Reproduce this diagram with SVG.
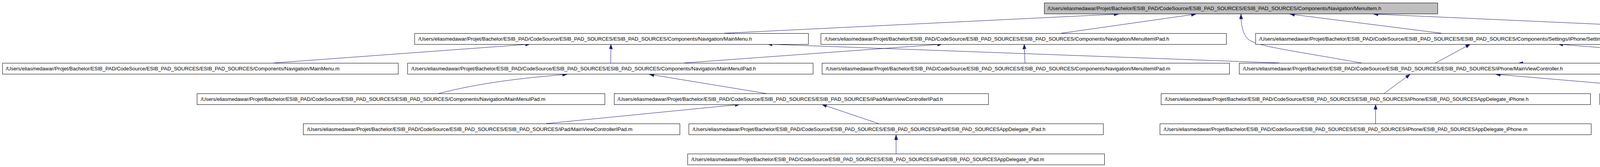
<svg xmlns="http://www.w3.org/2000/svg" width="5432" height="427" viewBox="0 0 5432 427">
<defs>
<style>
.n rect{fill:#ffffff;stroke:#000000;stroke-width:1}
.n.f rect{fill:#bfbfbf}
.n text{font-family:"Liberation Sans",Arial,sans-serif;font-size:12px;fill:#000000}
.e path{fill:none;stroke:#191970;stroke-width:1;marker-end:url(#ah)}
</style>
<marker id="ah" viewBox="0 0 12.5 9" refX="12.5" refY="4.5" markerWidth="12.5" markerHeight="9" markerUnits="userSpaceOnUse" orient="auto"><path d="M0,0L12.5,4.5L0,9z" fill="#191970" stroke="#191970" stroke-width="0.5"/></marker>
</defs>
<rect x="0" y="0" width="5432" height="427" fill="#ffffff"/>
<g id="edges" class="e">
<path d="M1854,85L2864,36"/>
<path d="M2717,85L3062,36"/>
<path d="M3485,161C3300,128 3215,118 3195,100C3180,85 3177,60 3177,36"/>
<path d="M3690,85L3302,36"/>
<path d="M4612,85L3516,36"/>
<path d="M701,161L1357,113"/>
<path d="M1563.5,161L1564,113"/>
<path d="M3275,161L1965,113"/>
<path d="M1751,161L2412,113"/>
<path d="M2624,161L2622,113"/>
<path d="M3675,161L3764,113"/>
<path d="M4586,161L3989,113"/>
<path d="M4117,183C4150,178 4150,168 4117,166L4050,162L3887,161.5"/>
<path d="M1123,239C1230,212 1330,200 1452,190"/>
<path d="M1961,239L1662,190"/>
<path d="M3543,239L3610,190"/>
<path d="M4407,239L3829,190"/>
<path d="M1398,316L1894,267"/>
<path d="M2249,316L2104,267"/>
<path d="M3521.5,316L3521.5,267"/>
<path d="M2294,393L2294,345"/>
</g>
<g id="n_MenuItem_h" class="n f"><rect x="2673.5" y="7.5" width="1007" height="28"/><text x="2682" y="26" textLength="854" lengthAdjust="spacingAndGlyphs">/Users/eliasmedawar/Projet/Bachelor/ESIB_PAD/CodeSource/ESIB_PAD_SOURCES/ESIB_PAD_SOURCES/Components/Navigation/MenuItem.h</text></g>
<g id="n_MainMenu_h" class="n"><rect x="1061.5" y="85.5" width="1008" height="28"/><text x="1071" y="104" textLength="854" lengthAdjust="spacingAndGlyphs">/Users/eliasmedawar/Projet/Bachelor/ESIB_PAD/CodeSource/ESIB_PAD_SOURCES/ESIB_PAD_SOURCES/Components/Navigation/MainMenu.h</text></g>
<g id="n_MenuItemIPad_h" class="n"><rect x="2101.5" y="85.5" width="1038" height="28"/><text x="2111" y="104" textLength="882" lengthAdjust="spacingAndGlyphs">/Users/eliasmedawar/Projet/Bachelor/ESIB_PAD/CodeSource/ESIB_PAD_SOURCES/ESIB_PAD_SOURCES/Components/Navigation/MenuItemIPad.h</text></g>
<g id="n_SettingsViewControllerIPhone_h" class="n"><rect x="3214.5" y="85.5" width="1179" height="28"/><text x="3224" y="104" textLength="1029" lengthAdjust="spacingAndGlyphs">/Users/eliasmedawar/Projet/Bachelor/ESIB_PAD/CodeSource/ESIB_PAD_SOURCES/ESIB_PAD_SOURCES/Components/Settings/iPhone/SettingsViewControllerIPhone.h</text></g>
<g id="n_MenuItem_m" class="n"><rect x="4416.5" y="85.5" width="1012" height="28"/><text x="4426" y="104" textLength="854" lengthAdjust="spacingAndGlyphs">/Users/eliasmedawar/Projet/Bachelor/ESIB_PAD/CodeSource/ESIB_PAD_SOURCES/ESIB_PAD_SOURCES/Components/Navigation/MenuItem.m</text></g>
<g id="n_MainMenu_m" class="n"><rect x="6.5" y="161.5" width="1013" height="28"/><text x="15" y="180" textLength="854" lengthAdjust="spacingAndGlyphs">/Users/eliasmedawar/Projet/Bachelor/ESIB_PAD/CodeSource/ESIB_PAD_SOURCES/ESIB_PAD_SOURCES/Components/Navigation/MainMenu.m</text></g>
<g id="n_MainMenuIPad_h" class="n"><rect x="1043.5" y="161.5" width="1038" height="28"/><text x="1053" y="180" textLength="882" lengthAdjust="spacingAndGlyphs">/Users/eliasmedawar/Projet/Bachelor/ESIB_PAD/CodeSource/ESIB_PAD_SOURCES/ESIB_PAD_SOURCES/Components/Navigation/MainMenuIPad.h</text></g>
<g id="n_MenuItemIPad_m" class="n"><rect x="2104.5" y="161.5" width="1043" height="28"/><text x="2114" y="180" textLength="882" lengthAdjust="spacingAndGlyphs">/Users/eliasmedawar/Projet/Bachelor/ESIB_PAD/CodeSource/ESIB_PAD_SOURCES/ESIB_PAD_SOURCES/Components/Navigation/MenuItemIPad.m</text></g>
<g id="n_MainViewController_h" class="n"><rect x="3172.5" y="161.5" width="945" height="28"/><text x="3182" y="180" textLength="819" lengthAdjust="spacingAndGlyphs">/Users/eliasmedawar/Projet/Bachelor/ESIB_PAD/CodeSource/ESIB_PAD_SOURCES/ESIB_PAD_SOURCES/iPhone/MainViewController.h</text></g>
<g id="n_SettingsViewControllerIPhone_m" class="n"><rect x="4165.5" y="161.5" width="1186" height="28"/><text x="4175" y="180" textLength="1029" lengthAdjust="spacingAndGlyphs">/Users/eliasmedawar/Projet/Bachelor/ESIB_PAD/CodeSource/ESIB_PAD_SOURCES/ESIB_PAD_SOURCES/Components/Settings/iPhone/SettingsViewControllerIPhone.m</text></g>
<g id="n_MainMenuIPad_m" class="n"><rect x="504.5" y="239.5" width="1044" height="28"/><text x="514" y="258" textLength="882" lengthAdjust="spacingAndGlyphs">/Users/eliasmedawar/Projet/Bachelor/ESIB_PAD/CodeSource/ESIB_PAD_SOURCES/ESIB_PAD_SOURCES/Components/Navigation/MainMenuIPad.m</text></g>
<g id="n_MainViewControllerIPad_h" class="n"><rect x="1572.5" y="239.5" width="958" height="28"/><text x="1581" y="258" textLength="833" lengthAdjust="spacingAndGlyphs">/Users/eliasmedawar/Projet/Bachelor/ESIB_PAD/CodeSource/ESIB_PAD_SOURCES/ESIB_PAD_SOURCES/iPad/MainViewControllerIPad.h</text></g>
<g id="n_AppDelegate_iPhone_h" class="n"><rect x="2972.5" y="239.5" width="1099" height="28"/><text x="2982" y="258" textLength="931" lengthAdjust="spacingAndGlyphs">/Users/eliasmedawar/Projet/Bachelor/ESIB_PAD/CodeSource/ESIB_PAD_SOURCES/ESIB_PAD_SOURCES/iPhone/ESIB_PAD_SOURCESAppDelegate_iPhone.h</text></g>
<g id="n_MainViewController_m" class="n"><rect x="4095.5" y="239.5" width="952" height="28"/><text x="4105" y="258" textLength="819" lengthAdjust="spacingAndGlyphs">/Users/eliasmedawar/Projet/Bachelor/ESIB_PAD/CodeSource/ESIB_PAD_SOURCES/ESIB_PAD_SOURCES/iPhone/MainViewController.m</text></g>
<g id="n_MainViewControllerIPad_m" class="n"><rect x="776.5" y="316.5" width="964" height="28"/><text x="786" y="335" textLength="833" lengthAdjust="spacingAndGlyphs">/Users/eliasmedawar/Projet/Bachelor/ESIB_PAD/CodeSource/ESIB_PAD_SOURCES/ESIB_PAD_SOURCES/iPad/MainViewControllerIPad.m</text></g>
<g id="n_AppDelegate_iPad_h" class="n"><rect x="1763.5" y="316.5" width="1061" height="28"/><text x="1773" y="335" textLength="903" lengthAdjust="spacingAndGlyphs">/Users/eliasmedawar/Projet/Bachelor/ESIB_PAD/CodeSource/ESIB_PAD_SOURCES/ESIB_PAD_SOURCES/iPad/ESIB_PAD_SOURCESAppDelegate_iPad.h</text></g>
<g id="n_AppDelegate_iPhone_m" class="n"><rect x="2969.5" y="316.5" width="1104" height="28"/><text x="2979" y="335" textLength="931" lengthAdjust="spacingAndGlyphs">/Users/eliasmedawar/Projet/Bachelor/ESIB_PAD/CodeSource/ESIB_PAD_SOURCES/ESIB_PAD_SOURCES/iPhone/ESIB_PAD_SOURCESAppDelegate_iPhone.m</text></g>
<g id="n_AppDelegate_iPad_m" class="n"><rect x="1760.5" y="393.5" width="1067" height="28"/><text x="1770" y="412" textLength="903" lengthAdjust="spacingAndGlyphs">/Users/eliasmedawar/Projet/Bachelor/ESIB_PAD/CodeSource/ESIB_PAD_SOURCES/ESIB_PAD_SOURCES/iPad/ESIB_PAD_SOURCESAppDelegate_iPad.m</text></g>
</svg>
